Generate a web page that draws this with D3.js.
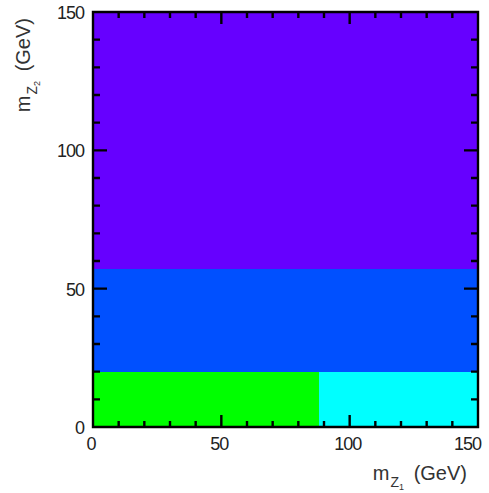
<!DOCTYPE html>
<html><head><meta charset="utf-8">
<script src="https://cdn.jsdelivr.net/npm/d3@7"></script>
<style>body{margin:0;background:#fff}svg{display:block}text{font-family:"Liberation Sans",Arial,sans-serif}</style>
</head><body><svg id="c" width="489" height="493"></svg>
<script>
// Regions of the 2D map (GeV)
const regionX0 = [0, 88, 0, 0];
const regionX1 = [88, 150, 150, 150];
const regionY0 = [0, 0, 20, 57];
const regionY1 = [20, 20, 57, 150];
const regionColor = ["#00ff00", "#00ffff", "#0050ff", "#6600ff"];
const xTicks = [0, 50, 100, 150];
const yTicks = [0, 50, 100, 150];
const minorTicks = [0, 10, 20, 30, 40, 50, 60, 70, 80, 90, 100, 110, 120, 130, 140, 150];

const svg = d3.select("#c");
const L = 93, R = 478, T = 12, B = 427;
const x = d3.scaleLinear().domain([0, 150]).range([L, R]);
const y = d3.scaleLinear().domain([0, 150]).range([B, T]);

svg.selectAll("rect.cell").data(regionX0.map((d, i) => i)).enter().append("rect")
  .attr("class", "cell")
  .attr("x", i => x(regionX0[i])).attr("y", i => y(regionY1[i]))
  .attr("width", i => x(regionX1[i]) - x(regionX0[i]))
  .attr("height", i => y(regionY0[i]) - y(regionY1[i]))
  .attr("fill", i => regionColor[i]).attr("shape-rendering", "crispEdges");

// frame and inward ticks on all four sides as one path
const lenX = v => (xTicks.includes(v) ? 12 : 6);
const lenY = v => (yTicks.includes(v) ? 14 : 7);
const p = d3.path();
p.rect(L, T, R - L, B - T);
minorTicks.forEach(v => {
  p.moveTo(x(v), B); p.lineTo(x(v), B - lenX(v));
  p.moveTo(x(v), T); p.lineTo(x(v), T + lenX(v));
  p.moveTo(L, y(v)); p.lineTo(L + lenY(v), y(v));
  p.moveTo(R, y(v)); p.lineTo(R - lenY(v), y(v));
});
svg.append("path").attr("d", p.toString())
  .attr("fill", "none").attr("stroke", "#000").attr("stroke-width", 2.4);

svg.selectAll("text.xt").data(xTicks).enter().append("text")
  .attr("class", "xt")
  .attr("x", d => d === 150 ? 481 : x(d) - 2).attr("y", 450)
  .attr("text-anchor", d => d === 150 ? "end" : "middle")
  .attr("font-size", 18).attr("letter-spacing", -1).attr("fill", "#222").text(d => d);
svg.selectAll("text.yt").data(yTicks).enter().append("text")
  .attr("class", "yt")
  .attr("x", 84).attr("y", d => y(d) + 7).attr("text-anchor", "end")
  .attr("font-size", 18).attr("letter-spacing", -1).attr("fill", "#222").text(d => d);

function title(sel, idx){
  sel.append("tspan").text("m");
  sel.append("tspan").attr("font-size", 14).attr("dy", 7).attr("dx", 1).text("Z");
  sel.append("tspan").attr("font-size", 9).attr("dy", 3).text(idx);
  sel.append("tspan").attr("dy", -10).attr("dx", 4).text(" (GeV)");
}
const xt = svg.append("text").attr("x", 467).attr("y", 480).attr("text-anchor", "end")
  .attr("font-size", 20).attr("fill", "#333");
title(xt, "1");
const yt = svg.append("text").attr("transform", "translate(30,18) rotate(-90)").attr("text-anchor", "end")
  .attr("font-size", 20).attr("fill", "#333");
title(yt, "2");
</script></body></html>
